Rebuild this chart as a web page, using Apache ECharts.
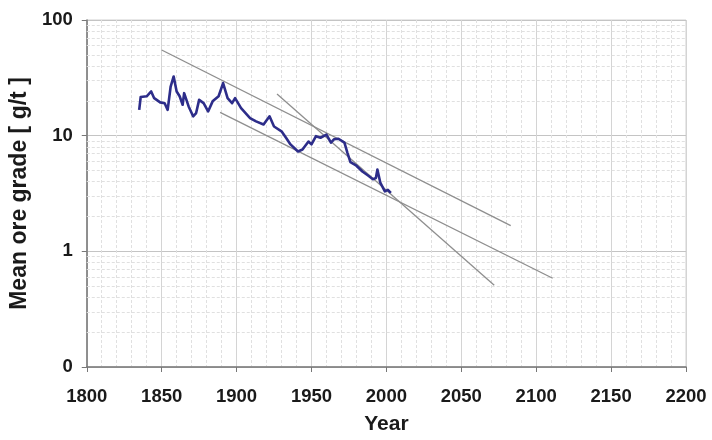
<!DOCTYPE html>
<html>
<head>
<meta charset="utf-8">
<script src="https://cdn.jsdelivr.net/npm/echarts@6/dist/echarts.min.js"></script>
<style>html,body{margin:0;padding:0;background:#fff}#c{width:712px;height:440px}</style>
</head>
<body>
<div id="c"></div>
<script>
// Observed mean ore grade (g/t)
const years = [
  1835,1836,1840,1843,1845,1849,1852,1854,1856,1858,
  1860,1862,1864,1865,1868,1871,1873,1875,1878,1881,
  1884,1888,1891,1894,1897,1899,1903,1909,1913,1918,
  1922,1925,1930,1933,1936,1941,1944,1948,1950,1953,
  1956,1960,1963,1965,1968,1972,1974,1976,1980,1984,
  1988,1991,1993,1994,1996,1999,2001,2003
];
const grades = [
  16.7,21.6,21.9,24.1,21.1,19.4,19.1,16.7,26.6,32.5,
  24.1,21.9,18.5,23.3,17.9,14.7,15.7,20.4,19.1,16.2,
  19.8,21.9,28.5,21.1,19.1,21.1,17.3,14.2,13.3,12.5,
  14.7,12.0,10.9,9.6,8.4,7.3,7.6,8.9,8.4,9.9,
  9.6,10.2,8.7,9.3,9.4,8.7,7.1,5.9,5.5,4.9,
  4.5,4.2,4.3,5.1,3.9,3.3,3.4,3.2
];
// Trend lines (start/end)
const trendUpperYears = [1850, 2083];
const trendUpperValues = [55, 1.67];
const trendLowerYears = [1889, 2111];
const trendLowerValues = [15.9, 0.585];
const trendSteepYears = [1927, 2072];
const trendSteepValues = [22.9, 0.51];
// Axis ticks
const xTicks = [1800,1850,1900,1950,2000,2050,2100,2150,2200];
const yTickValues = [0.1, 1, 10, 100];
const yTickLabels = ['0', '1', '10', '100'];
const yMinorValues = [0.2,0.3,0.4,0.5,0.6,0.7,0.8,0.9,2,3,4,5,6,7,8,9,20,30,40,50,60,70,80,90];

const zip = (a, b) => a.map((v, i) => [v, b[i]]);
const labelFont = {fontFamily: 'Liberation Sans, Arial, sans-serif', fontWeight: 'bold', fontSize: 18.5, color: '#1a1a1a'};
const trendStyle = {color: '#8e8e8e', width: 1.3};

const chart = echarts.init(document.getElementById('c'), null, {renderer: 'canvas'});
chart.setOption({
  animation: false,
  backgroundColor: '#fff',
  grid: {left: 85, right: 26, top: 20, bottom: 72, show: true, borderColor: '#d0d0d0', borderWidth: 1},
  xAxis: {
    type: 'value',
    min: xTicks[0], max: xTicks[xTicks.length - 1], interval: 50,
    name: 'Year', nameLocation: 'middle', nameGap: 47,
    nameTextStyle: Object.assign({}, labelFont, {fontSize: 21}),
    axisLine: {lineStyle: {color: '#777', width: 1.5}},
    axisTick: {show: true, length: 5, lineStyle: {color: '#777'}},
    axisLabel: Object.assign({}, labelFont, {margin: 20, formatter: v => String(v)}),
    splitLine: {show: true, lineStyle: {color: '#d4d4d4', width: 1}},
    minorTick: {show: false, splitNumber: 5},
    minorSplitLine: {show: true, lineStyle: {color: '#e0e0e0', type: [3, 2], width: 1}}
  },
  yAxis: {
    type: 'log', logBase: 10,
    min: yTickValues[0], max: yTickValues[yTickValues.length - 1],
    name: 'Mean ore grade [ g/t ]', nameLocation: 'middle', nameGap: 52, nameRotate: 90,
    nameTextStyle: Object.assign({}, labelFont, {fontSize: 23}),
    axisLine: {show: true, lineStyle: {color: '#777', width: 1.5}},
    axisTick: {show: true, length: 5, lineStyle: {color: '#777'}},
    axisLabel: Object.assign({}, labelFont, {margin: 14, formatter: v => {
      const i = yTickValues.findIndex(t => Math.abs(t - v) < 1e-9 * Math.max(1, v));
      return i >= 0 ? yTickLabels[i] : '';
    }}),
    splitLine: {show: true, lineStyle: {color: '#c4c4c4', width: 1}}
  },
  series: [
    {
      type: 'line', data: [], silent: true, z: 1,
      markLine: {
        silent: true, symbol: 'none', label: {show: false}, z: 1,
        lineStyle: {color: '#e0e0e0', type: [3, 2], width: 1},
        data: yMinorValues.map(v => ({yAxis: v}))
      }
    },
    {type: 'line', data: zip(trendUpperYears, trendUpperValues), symbol: 'none', lineStyle: trendStyle, silent: true, z: 3},
    {type: 'line', data: zip(trendLowerYears, trendLowerValues), symbol: 'none', lineStyle: trendStyle, silent: true, z: 3},
    {type: 'line', data: zip(trendSteepYears, trendSteepValues), symbol: 'none', lineStyle: trendStyle, silent: true, z: 3},
    {
      type: 'line', data: zip(years, grades), symbol: 'none', z: 10,
      lineStyle: {color: '#2d2d8a', width: 2.6, join: 'round'}
    }
  ]
});
</script>
</body>
</html>
